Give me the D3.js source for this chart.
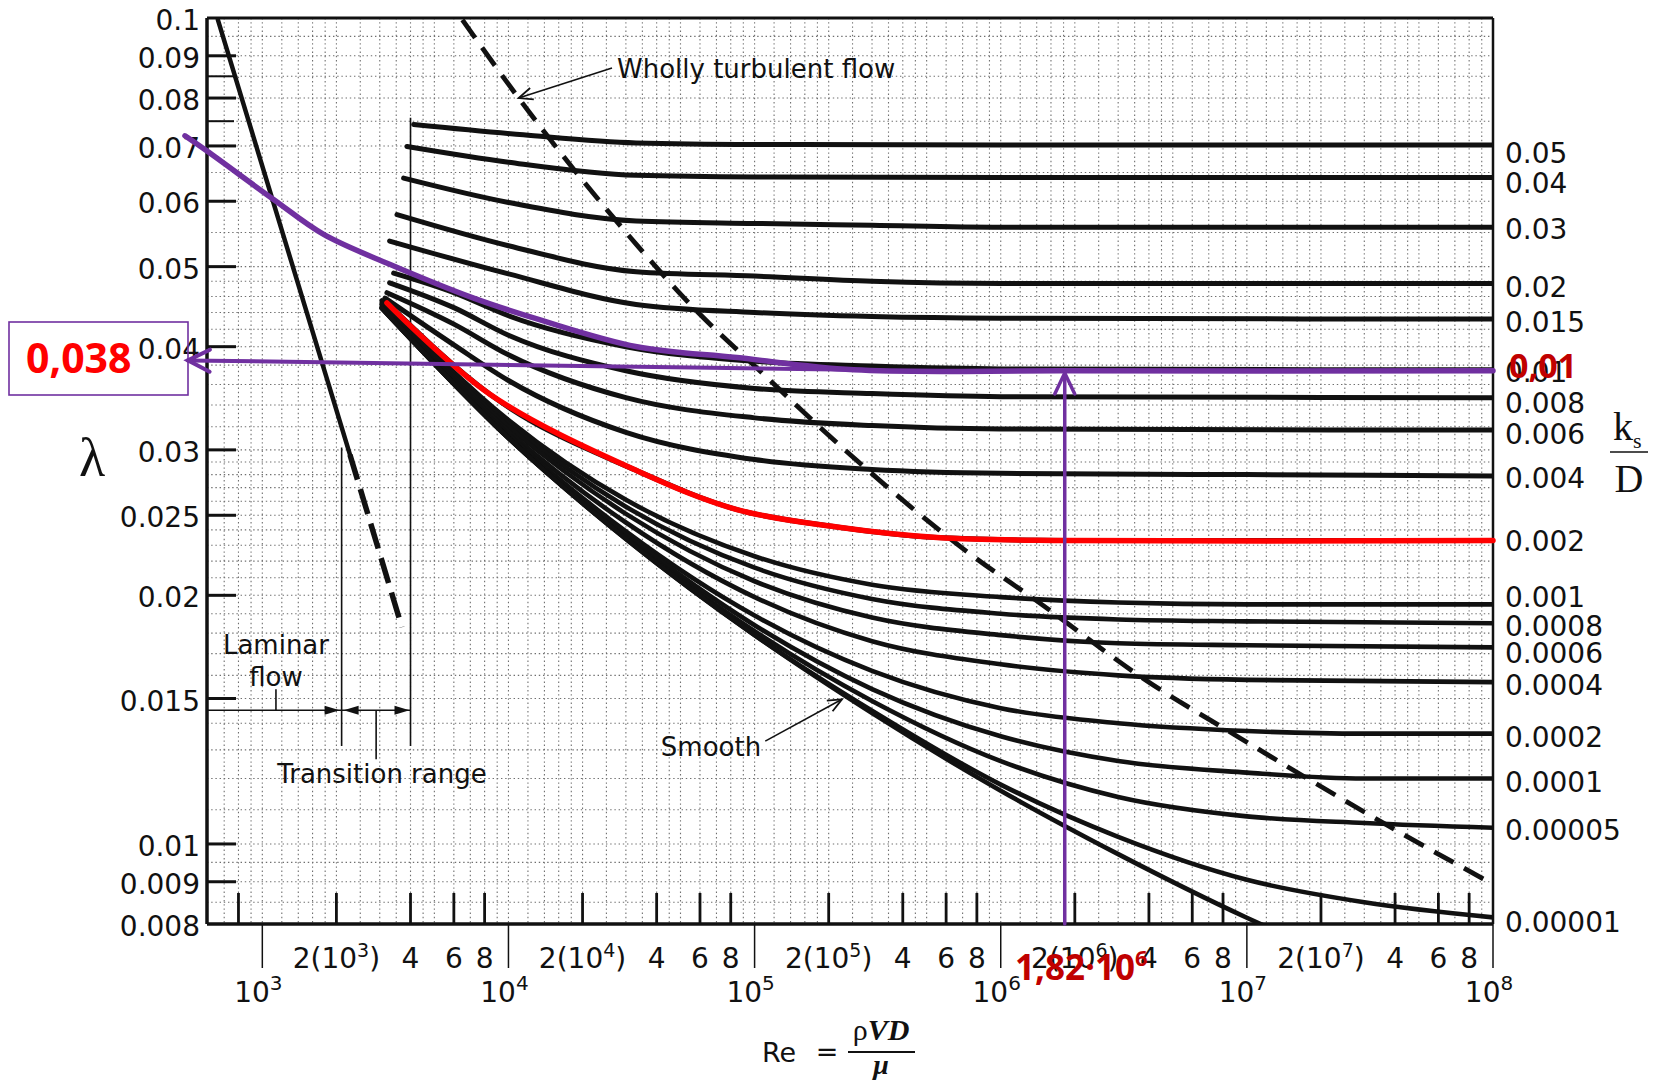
<!DOCTYPE html>
<html><head><meta charset="utf-8">
<script src="https://cdn.jsdelivr.net/npm/d3@7"></script>
<style>
html,body{margin:0;padding:0;background:#fff;}
svg{display:block;}
</style></head><body>
<svg id="chart" width="1659" height="1082"></svg>
<script>
// ---------------- DATA ----------------
const roughnessLabels = ["0.05","0.04","0.03","0.02","0.015","0.01","0.008","0.006","0.004","0.002",
  "0.001","0.0008","0.0006","0.0004","0.0002","0.0001","0.00005","0.00001"];
const rightLabelF = [0.0686,0.0631,0.0555,0.0473,0.0429,0.0373,0.0342,0.0314,0.0277,0.0233,
  0.01993,0.01836,0.01702,0.01558,0.01349,0.01190,0.01040,0.00805];

// friction factor curves: [Re, lambda]
const curve_005   = [[4120,0.0743],[11500,0.0722],[33000,0.0706],[1e5,0.0703],[1e6,0.0702],[1e8,0.0702]];
const curve_004   = [[3870,0.0699],[1e4,0.0669],[33000,0.0645],[1e5,0.0642],[1e6,0.0641],[1e8,0.0641]];
const curve_003   = [[3750,0.0640],[1e4,0.0598],[33000,0.0568],[1e5,0.0564],[3e5,0.0561],[1e6,0.0558],[1e8,0.0558]];
const curve_002   = [[3525,0.0578],[1e4,0.0530],[33000,0.0493],[1e5,0.0487],[3e5,0.0480],[1e6,0.0477],[1e8,0.0477]];
const curve_0015  = [[3290,0.0537],[1e4,0.0490],[33000,0.0450],[1e5,0.0440],[3e5,0.0435],[1e6,0.0433],[1e8,0.0432]];
const curve_001   = [[3416,0.0491],[6000,0.0465],[1e4,0.0436],[3e4,0.0400],[1e5,0.0384],[3e5,0.0379],[1e6,0.0376],[1e8,0.0375]];
const curve_0008  = [[3290,0.0478],[6000,0.0446],[1e4,0.0413],[3e4,0.0374],[1e5,0.0356],[3e5,0.0351],[1e6,0.0348],[1e8,0.0347]];
const curve_0006  = [[3208,0.0465],[6000,0.0426],[1e4,0.0391],[3e4,0.0347],[1e5,0.0328],[3e5,0.0321],[1e6,0.0318],[1e8,0.0317]];
const curve_0004  = [[3150,0.0458],[6000,0.0402],[1e4,0.0364],[3e4,0.0315],[1e5,0.0292],[3e5,0.0284],[1e6,0.0281],[1e7,0.0280],[1e8,0.0279]];
const curve_0002  = [[3208,0.0452],[8433,0.0350],[33270,0.0283],[84800,0.0254],[216000,0.0242],[551000,0.0235],[1.86e6,0.0233],[1e8,0.0233]];
const curve_0001  = [[3060,0.0455],[1e4,0.0326],[3e4,0.0261],[1e5,0.0223],[3e5,0.0206],[1e6,0.0199],[3e6,0.0196],[1e7,0.0195],[1e8,0.0195]];
const curve_00008 = [[3060,0.0453],[1e4,0.0323],[3e4,0.0256],[1e5,0.0216],[3e5,0.0198],[1e6,0.0190],[3e6,0.0187],[1e7,0.0186],[1e8,0.0185]];
const curve_00006 = [[3060,0.0451],[1e4,0.0320],[3e4,0.0251],[1e5,0.0208],[3e5,0.0188],[1e6,0.0179],[3e6,0.0175],[1e7,0.0174],[1e8,0.0173]];
const curve_00004 = [[3060,0.0449],[1e4,0.0316],[3e4,0.0245],[1e5,0.0199],[3e5,0.0176],[1e6,0.0165],[3e6,0.0160],[1e7,0.0158],[1e8,0.0157]];
const curve_00002 = [[3060,0.0447],[1e4,0.0313],[3e4,0.0239],[1e5,0.0189],[3e5,0.0162],[1e6,0.0146],[3e6,0.0140],[1e7,0.0137],[3e7,0.0136],[1e8,0.0136]];
const curve_00001 = [[3060,0.0446],[1e4,0.0311],[3e4,0.0237],[1e5,0.0184],[3e5,0.0154],[1e6,0.0135],[3e6,0.0126],[1e7,0.0122],[3e7,0.0120],[1e8,0.0120]];
const curve_000005= [[3060,0.04455],[1e4,0.0310],[3e4,0.0235],[1e5,0.0181],[3e5,0.0149],[1e6,0.0126],[3e6,0.0114],[1e7,0.0108],[3e7,0.0106],[1e8,0.01046]];
const curve_000001= [[3060,0.0445],[1e4,0.0310],[3e4,0.0234],[1e5,0.0179],[3e5,0.0145],[1e6,0.0118],[3e6,0.0102],[1e7,0.00905],[3e7,0.0085],[1e8,0.00815]];
const curve_smooth= [[3060,0.0445],[1e4,0.0310],[3e4,0.0234],[1e5,0.0179],[3e5,0.0144],[1e6,0.0116],[3e6,0.00972],[1e7,0.00814],[1.2e7,0.00794]];

const laminarSolid  = [[660,0.0995],[2270,0.0296]];
const laminarDashed = [[2270,0.0296],[3690,0.0183]];
const whollyTurbulent = [[6500,0.0995],[11000,0.0800],[33270,0.0531],[54800,0.0450],[105500,0.03735],[244800,0.0296],
  [752300,0.02243],[1.405e6,0.01968],[3.93e6,0.01575],[8.84e6,0.01358],[1.93e7,0.01181],[4.2e7,0.01032],[1e8,0.00894]];

const purpleCurve = [[485,0.0720],[596,0.0690],[1111,0.0603],[1775,0.0547],[3309,0.0503],[7220,0.0458],[13460,0.0431],
  [33270,0.0400],[84800,0.0388],[252700,0.0375],[1.86e6,0.0374],[1e8,0.0374]];
const purpleArrowH = [[252700,0.0375],[498,0.0385]];
const purpleArrowV = [[1.82e6,0.008],[1.82e6,0.03717]];
const transitionRe = [2100,4000];

// axes / tick labels
const yTickValues = [0.1,0.09,0.08,0.07,0.06,0.05,0.04,0.03,0.025,0.02,0.015,0.01,0.009,0.008];
const yTickLabels = ["0.1","0.09","0.08","0.07","0.06","0.05","0.04","0.03","0.025","0.02","0.015","0.01","0.009","0.008"];
const yMinorTicks = [0.085,0.075];
const xDecadeValues = [1e3,1e4,1e5,1e6,1e7,1e8];
const xDecadeSup = ["3","4","5","6","7","8"];
const xSubTickValues = [800,2e3,4e3,6e3,8e3,2e4,4e4,6e4,8e4,2e5,4e5,6e5,8e5,2e6,4e6,6e6,8e6,2e7,4e7,6e7,8e7];
const xSubLabelValues = [2e3,4e3,6e3,8e3,2e4,4e4,6e4,8e4,2e5,4e5,6e5,8e5,2e6,4e6,6e6,8e6,2e7,4e7,6e7,8e7];
const xSubLabelMain = ["2(10","4","6","8","2(10","4","6","8","2(10","4","6","8","2(10","4","6","8","2(10","4","6","8"];
const xSubLabelSup  = ["3","","","","4","","","","5","","","","6","","","","7","","",""];
const gridMultipliers = [1,1.2,1.4,1.6,1.8,2,2.5,3,3.5,4,4.5,5,6,7,8,9];

// ---------------- DRAWING ----------------
const svg = d3.select("#chart");
const L = 207, R = 1493, T = 18, B = 924;
const x = d3.scaleLog().domain([596,1e8]).range([L,R]);
const y = d3.scaleLog().domain([0.008,0.1]).range([B,T]);
const FONT = "'DejaVu Sans', sans-serif";
const PURPLE = "#7030A0";

svg.append("rect").attr("width",1659).attr("height",1082).attr("fill","#fff");
svg.append("defs").append("clipPath").attr("id","plot")
  .append("rect").attr("x",L).attr("y",T).attr("width",R-L).attr("height",B-T);

// grid
const gridRe = [];
[100,1e3,1e4,1e5,1e6,1e7].forEach(d => gridMultipliers.forEach(m => { const v=m*d; if (v>600 && v<1e8) gridRe.push(v); }));
const gridF = [];
for (let v=0.0085; v<0.0101; v+=0.0005) gridF.push(+v.toFixed(5));
for (let v=0.011; v<0.0301; v+=0.001) gridF.push(+v.toFixed(4));
for (let v=0.032; v<0.0501; v+=0.002) gridF.push(+v.toFixed(4));
for (let v=0.055; v<0.0999; v+=0.005) gridF.push(+v.toFixed(4));
const gridG = svg.append("g").attr("stroke","#333").attr("stroke-width",1.1)
  .attr("stroke-dasharray","1.4,2.8").attr("opacity",0.7);
gridRe.forEach(v => gridG.append("line").attr("x1",x(v)).attr("x2",x(v)).attr("y1",T).attr("y2",B));
gridF.forEach(v => gridG.append("line").attr("x1",L).attr("x2",R).attr("y1",y(v)).attr("y2",y(v)));

// frame
const frame = svg.append("g").attr("stroke","#111").attr("fill","none");
frame.append("line").attr("x1",L).attr("x2",R).attr("y1",T).attr("y2",T).attr("stroke-width",3);
frame.append("line").attr("x1",L).attr("x2",R).attr("y1",B).attr("y2",B).attr("stroke-width",3.5);
frame.append("line").attr("x1",L).attr("x2",L).attr("y1",T).attr("y2",B).attr("stroke-width",3.5);
frame.append("line").attr("x1",R).attr("x2",R).attr("y1",T).attr("y2",B).attr("stroke-width",2.5);

// y ticks + labels
yTickValues.forEach((v,i) => {
  if (v < 0.1 && v > 0.008) frame.append("line").attr("x1",L).attr("x2",L+29).attr("y1",y(v)).attr("y2",y(v)).attr("stroke-width",3);
  svg.append("text").attr("x",200).attr("y",y(v)+12).attr("text-anchor","end")
    .attr("font-family",FONT).attr("font-size",28).attr("fill","#111").text(yTickLabels[i]);
});
yMinorTicks.forEach(v => frame.append("line").attr("x1",L).attr("x2",L+27).attr("y1",y(v)).attr("y2",y(v)).attr("stroke-width",2));

// x ticks
xSubTickValues.forEach(v => frame.append("line").attr("x1",x(v)).attr("x2",x(v)).attr("y1",B).attr("y2",B-31).attr("stroke-width",2.8));
xDecadeValues.forEach(v => frame.append("line").attr("x1",x(v)).attr("x2",x(v)).attr("y1",B).attr("y2",B+44).attr("stroke-width",1.5));
xSubLabelValues.forEach((v,i) => {
  const t = svg.append("text").attr("x",x(v)).attr("y",968).attr("text-anchor","middle")
    .attr("font-family",FONT).attr("font-size",28).attr("fill","#111");
  t.append("tspan").text(xSubLabelMain[i]);
  if (xSubLabelSup[i]) {
    t.append("tspan").attr("dy",-11).attr("font-size",19).text(xSubLabelSup[i]);
    t.append("tspan").attr("dy",11).text(")");
  }
});
xDecadeValues.forEach((v,i) => {
  const t = svg.append("text").attr("x",x(v)-4).attr("y",1002).attr("text-anchor","middle")
    .attr("font-family",FONT).attr("font-size",28).attr("fill","#111");
  t.append("tspan").text("10");
  t.append("tspan").attr("dy",-12).attr("font-size",20).text(xDecadeSup[i]);
});

// curves
const line = d3.line().x(d => x(d[0])).y(d => y(d[1])).curve(d3.curveMonotoneX);
const smoothLine = d3.line().x(d => x(d[0])).y(d => y(d[1])).curve(d3.curveCatmullRom.alpha(0.5));
const straight = d3.line().x(d => x(d[0])).y(d => y(d[1]));
const cg = svg.append("g").attr("clip-path","url(#plot)").attr("fill","none").attr("stroke","#111").attr("stroke-linecap","round");
const upperCurves = [curve_005,curve_004,curve_003,curve_002,curve_0015,curve_001,curve_0008,curve_0006,curve_0004,curve_0002];
const lowerCurves = [curve_0001,curve_00008,curve_00006,curve_00004,curve_00002,curve_00001,curve_000005,curve_000001,curve_smooth];
upperCurves.forEach(c => cg.append("path").attr("d",line(c)).attr("stroke-width",5));
lowerCurves.forEach(c => cg.append("path").attr("d",line(c)).attr("stroke-width",4.6));

// laminar
cg.append("path").attr("d",straight(laminarSolid)).attr("stroke-width",4.5);
cg.append("path").attr("d",straight(laminarDashed)).attr("stroke-width",5.5).attr("stroke-dasharray","26,10").attr("stroke-linecap","butt");
// wholly turbulent boundary
cg.append("path").attr("d",line(whollyTurbulent)).attr("stroke-width",4.8).attr("stroke-dasharray","22,12").attr("stroke-linecap","butt");

// helper arrowheads
function openHead(g, tail, tip, len, half, color, w) {
  const dx = tail[0]-tip[0], dy = tail[1]-tip[1], n = Math.hypot(dx,dy);
  const ux = dx/n, uy = dy/n, px = -uy, py = ux;
  g.append("path").attr("d",`M${tip[0]+ux*len+px*half},${tip[1]+uy*len+py*half}L${tip[0]},${tip[1]}L${tip[0]+ux*len-px*half},${tip[1]+uy*len-py*half}`)
    .attr("fill","none").attr("stroke",color).attr("stroke-width",w).attr("stroke-linejoin","miter");
}
function filledHead(g, tip, dir, len, half, color) {
  g.append("path").attr("d",`M${tip[0]},${tip[1]}L${tip[0]-dir*len},${tip[1]-half}L${tip[0]-dir*len},${tip[1]+half}Z`).attr("fill",color);
}
const P = d => [x(d[0]), y(d[1])];

// transition range annotation
const ag = svg.append("g");
const yArrow = y(0.01452);
ag.append("line").attr("x1",L).attr("x2",x(transitionRe[1])).attr("y1",yArrow).attr("y2",yArrow).attr("stroke","#111").attr("stroke-width",1.6);
ag.append("line").attr("x1",x(transitionRe[0])).attr("x2",x(transitionRe[0])).attr("y1",y(0.0302)).attr("y2",y(0.01314)).attr("stroke","#111").attr("stroke-width",1.6);
ag.append("line").attr("x1",x(transitionRe[1])).attr("x2",x(transitionRe[1])).attr("y1",y(0.0757)).attr("y2",y(0.01314)).attr("stroke","#111").attr("stroke-width",1.6);
filledHead(ag,[x(transitionRe[0])-2,yArrow],1,15,4.5,"#111");
filledHead(ag,[x(transitionRe[0])+2,yArrow],-1,15,4.5,"#111");
filledHead(ag,[x(transitionRe[1])-1,yArrow],1,15,4.5,"#111");
ag.append("line").attr("x1",x(1136)).attr("x2",x(1136)).attr("y1",y(0.01539)).attr("y2",yArrow).attr("stroke","#111").attr("stroke-width",1.6);
ag.append("line").attr("x1",x(2900)).attr("x2",x(2900)).attr("y1",yArrow).attr("y2",y(0.01266)).attr("stroke","#111").attr("stroke-width",1.6);

// labels inside plot
function label(txt, px, py, anchor, size) {
  svg.append("text").attr("x",px).attr("y",py).attr("text-anchor",anchor||"start")
    .attr("font-family",FONT).attr("font-size",size||26).attr("fill","#111").text(txt);
}
label("Laminar", x(1136), y(0.01698), "middle");
label("flow", x(1136), y(0.01553), "middle");
label("Transition range", x(3062), y(0.01185), "middle");
label("Smooth", x(66500), y(0.01278), "middle");
label("Wholly turbulent flow", x(27600), y(0.0846), "start");

// pointer arrows
const wt = [P([26340,0.0870]), P([11000,0.0800])];
ag.append("line").attr("x1",wt[0][0]).attr("y1",wt[0][1]).attr("x2",wt[1][0]).attr("y2",wt[1][1]).attr("stroke","#111").attr("stroke-width",1.6);
openHead(ag, wt[0], wt[1], 14, 6, "#111", 1.8);
const sm = [P([110500,0.01332]), P([226500,0.01497])];
ag.append("line").attr("x1",sm[0][0]).attr("y1",sm[0][1]).attr("x2",sm[1][0]).attr("y2",sm[1][1]).attr("stroke","#111").attr("stroke-width",1.6);
openHead(ag, sm[0], sm[1], 14, 6, "#111", 1.8);

// right labels
roughnessLabels.forEach((t,i) => label(t, 1505, y(rightLabelF[i])+10, "start", 28));

// red highlighted curve (ks/D = 0.002)
svg.append("path").attr("d",smoothLine(curve_0002)).attr("fill","none").attr("stroke","#FF0000").attr("stroke-width",5.5).attr("stroke-linecap","round");

// purple construction
const pg = svg.append("g").attr("fill","none").attr("stroke",PURPLE).attr("stroke-linecap","round");
pg.append("path").attr("d",smoothLine(purpleCurve)).attr("stroke-width",5.5);
pg.append("path").attr("d",straight(purpleArrowH)).attr("stroke-width",4);
openHead(pg, P(purpleArrowH[0]), P(purpleArrowH[1]), 22, 11, PURPLE, 4);
pg.append("path").attr("d",straight(purpleArrowV)).attr("stroke-width",3.5);
openHead(pg, P(purpleArrowV[0]), P(purpleArrowV[1]), 21, 10, PURPLE, 3.5);
svg.append("rect").attr("x",9).attr("y",322).attr("width",179).attr("height",73)
  .attr("fill","none").attr("stroke",PURPLE).attr("stroke-width",1.6);

// red value labels
const RFONT = "'Open Sans', 'Liberation Sans', sans-serif";
svg.append("text").attr("x",26).attr("y",373).attr("font-family",RFONT).attr("font-weight",700)
  .attr("font-size",41).attr("fill","#FF0000").text("0,038");
svg.append("text").attr("x",1509).attr("y",378).attr("font-family",RFONT).attr("font-weight",700)
  .attr("font-size",34).attr("fill","#C00000").text("0,01");
const rt = svg.append("text").attr("x",1015).attr("y",980).attr("font-family",RFONT).attr("font-weight",700)
  .attr("font-size",35).attr("fill","#C00000");
rt.append("tspan").text("1,82·10");
rt.append("tspan").attr("dy",-14).attr("font-size",22).text("6");

// axis titles
svg.append("text").attr("x",92).attr("y",476).attr("text-anchor","middle")
  .attr("font-family","'Liberation Serif', serif").attr("font-size",54).attr("fill","#111").text("λ");
const SERIF = "'Liberation Serif', serif";
svg.append("text").attr("x",1613).attr("y",440).attr("font-family",SERIF).attr("font-size",40).attr("fill","#111").text("k");
svg.append("text").attr("x",1633).attr("y",448).attr("font-family",SERIF).attr("font-size",22).attr("fill","#111").text("s");
svg.append("line").attr("x1",1610).attr("x2",1648).attr("y1",452).attr("y2",452).attr("stroke","#111").attr("stroke-width",1.5);
svg.append("text").attr("x",1629).attr("y",492).attr("text-anchor","middle").attr("font-family",SERIF).attr("font-size",40).attr("fill","#111").text("D");

svg.append("text").attr("x",762).attr("y",1062).attr("font-family",FONT).attr("font-size",27).attr("fill","#111").text("Re");
svg.append("text").attr("x",827).attr("y",1061).attr("text-anchor","middle").attr("font-family",FONT).attr("font-size",27).attr("fill","#111").text("=");
const num = svg.append("text").attr("x",881).attr("y",1040).attr("text-anchor","middle").attr("font-family",SERIF).attr("font-size",30).attr("fill","#111");
num.append("tspan").text("ρ");
num.append("tspan").attr("font-style","italic").attr("font-weight",700).text("VD");
svg.append("line").attr("x1",848).attr("x2",915).attr("y1",1052).attr("y2",1052).attr("stroke","#111").attr("stroke-width",1.8);
svg.append("text").attr("x",881).attr("y",1074).attr("text-anchor","middle").attr("font-family",SERIF).attr("font-style","italic").attr("font-weight",700).attr("font-size",28).attr("fill","#111").text("μ");
</script>
</body></html>
